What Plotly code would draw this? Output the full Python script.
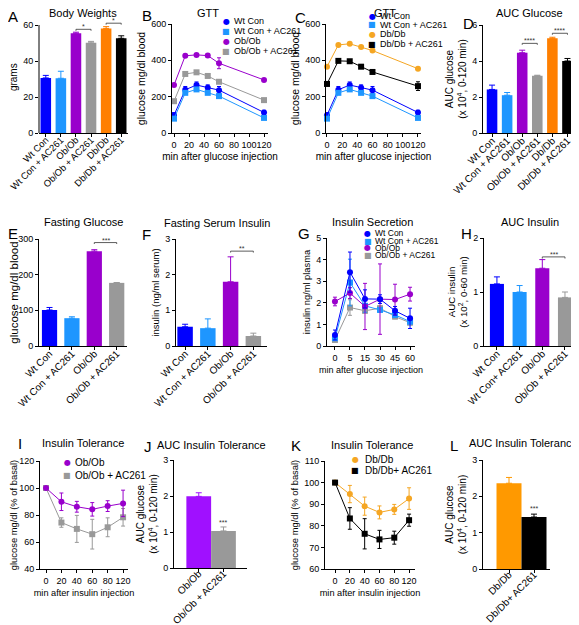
import plotly.graph_objects as go

# page offset (browser body margin) compensation
OFF = 8
PAGE_W, PAGE_H = 579, 625
W, H = PAGE_W - OFF, PAGE_H - OFF
FONT = "Liberation Sans, Arial, Helvetica, sans-serif"

# ---------------- colours ----------------
C_WT = "#0000FF"
C_WTAC = "#1E96FF"
C_OB = "#9900CC"
C_OBAC = "#999999"
C_DB = "#FF7F00"
C_DBAC = "#000000"
C_DB_LINE = "#F5A623"
C_OB_J = "#A010FF"
C_DB_L = "#FF9900"

# ---------------- data ----------------
bw_groups = ["Wt Con", "Wt Con + AC261", "Ob/Ob", "Ob/Ob + AC261", "Db/Db", "Db/Db + AC261"]
bw_mean = [30.6, 30.4, 55.4, 50.1, 58.1, 52.6]
bw_sem = [1.4, 3.9, 0.6, 0.8, 1.0, 1.4]

gtt_time = [0, 15, 30, 45, 60, 120]
gtt_wt = [98, 238, 264, 249, 236, 113]
gtt_wt_err = [14, 18, 17, 16, 20, 12]
gtt_wtac = [79, 221, 240, 221, 203, 83]
gtt_wtac_err = [8, 8, 10, 8, 8, 6]
gtt_ob = [264, 425, 430, 426, 384, 292]
gtt_ob_err = [6, 8, 6, 8, 30, 6]
gtt_obac = [175, 325, 334, 314, 282, 181]
gtt_obac_err = [5, 6, 6, 5, 6, 5]
gtt_db = [365, 485, 491, 474, 454, 354]
gtt_db_err = [6, 6, 6, 6, 6, 6]
gtt_dbac = [270, 397, 395, 365, 336, 258]
gtt_dbac_err = [8, 6, 6, 8, 6, 24]

auc_glu_groups = ["Wt Con", "Wt Con + AC261", "Ob/Ob", "Ob/Ob + AC261", "Db/Db", "Db/Db + AC261"]
auc_glu = [2.42, 2.10, 4.46, 3.18, 5.26, 4.00]
auc_glu_err = [0.24, 0.15, 0.14, 0.03, 0.06, 0.14]

fg_groups = ["Wt Con", "Wt Con + AC261", "Ob/Ob", "Ob/Ob + AC261"]
fg_mean = [101, 78, 266, 177]
fg_err = [7, 4, 4, 1]

fi_groups = ["Wt Con", "Wt Con + AC261", "Ob/Ob", "Ob/Ob + AC261"]
fi_mean = [0.54, 0.50, 1.80, 0.28]
fi_err = [0.07, 0.26, 0.70, 0.08]

ins_time = ["0", "5", "15", "30", "45", "60"]
ins_wt = [0.51, 3.42, 2.18, 2.17, 1.63, 1.28]
ins_wt_err = [0.23, 0.93, 0.42, 0.20, 0.20, 0.47]
ins_wtac = [0.36, 2.94, 1.86, 1.67, 1.44, 1.13]
ins_wtac_err = [0.10, 1.08, 0.30, 0.10, 0.10, 0.10]
ins_ob = [2.06, 2.45, 1.83, 2.17, 2.15, 2.40]
ins_ob_err = [0.20, 0.25, 1.07, 1.63, 0.71, 0.32]
ins_obac = [0.28, 1.78, 1.63, 1.75, 1.36, 1.08]
ins_obac_err = [0.05, 0.36, 0.10, 0.10, 0.10, 0.10]

auc_ins_groups = ["Wt Con", "Wt Con+ AC261", "Ob/Ob", "Ob/Ob + AC261"]
auc_ins = [1.15, 1.00, 1.44, 0.90]
auc_ins_err = [0.13, 0.12, 0.16, 0.10]

itt_time = ["0", "20", "40", "60", "80", "120"]
itt_ob = [100, 89.8, 86.1, 84.2, 86.6, 88.6]
itt_ob_err = [0.5, 6.5, 4.0, 5.0, 4.0, 9.8]
itt_obac = [100, 74.4, 69.7, 65.8, 70.9, 78.3]
itt_obac_err = [0.5, 3.5, 10.0, 11.0, 7.0, 6.5]
itt_ob_stars = ["", "*", "*", "**", "*", ""]
itt_ob_star_y = [None, 98.4, 91.0, 91.8, 93.6, None]

aucitt_ob_groups = ["Ob/Ob", "Ob/Ob + AC261"]
aucitt_ob = [1.99, 1.03]
aucitt_ob_err = [0.10, 0.11]

itt_db = [100, 94.7, 89.1, 86.2, 87.6, 92.6]
itt_db_err = [0.5, 4.0, 4.2, 3.0, 2.3, 5.0]
itt_dbac = [100, 83.4, 76.3, 73.7, 74.5, 82.6]
itt_dbac_err = [0.5, 5.0, 7.0, 4.2, 3.0, 2.8]
itt_db_stars = ["", "*", "**", "**", "**", "*"]
itt_db_star_y = [None, 101.0, 95.7, 90.6, 92.0, 99.0]

aucitt_db_groups = ["Db/Db", "Db/Db+ AC261"]
aucitt_db = [2.36, 1.43]
aucitt_db_err = [0.16, 0.08]

# ---------------- helpers ----------------
fig = go.Figure()
layout = dict(
    width=W, height=H, margin=dict(l=0, r=0, t=0, b=0, pad=0),
    paper_bgcolor="white", plot_bgcolor="white", showlegend=False,
    font=dict(family=FONT, size=9, color="black"),
    template="none",
)
annotations = []
shapes = []


def pxx(x):
    return (x - OFF) / W


def pxy(y):
    return 1 - (y - OFF) / H


def ref(n, a):
    return a if n == 1 else f"{a}{n}"


def add_axes(n, xpx, ypx, xrange, yrange, yticks, xtickvals=None, xticktext=None,
             xtitle=None, ytitle=None, xcat=False, tickangle=0, yline=True,
             xtsize=9, ytsize=10, xfont=9, standoff=-6):
    xa = dict(domain=[pxx(xpx[0]), pxx(xpx[1])], range=xrange, anchor=ref(n, "y"),
              showline=True, linecolor="black", linewidth=1, ticks="outside", ticklen=3,
              tickwidth=1, tickcolor="black", showgrid=False, zeroline=False,
              tickfont=dict(size=xfont, family=FONT), tickangle=tickangle, automargin=False,
              fixedrange=True, type="category" if xcat else "linear",
              ticklabeloverflow="allow")
    if tickangle:
        xa["ticklabelstandoff"] = standoff
    if xtickvals is not None:
        xa["tickmode"] = "array"
        xa["tickvals"] = xtickvals
        xa["ticktext"] = xticktext
    if xtitle:
        xa["title"] = dict(text=xtitle, font=dict(size=xtsize, family=FONT), standoff=4)
    ya = dict(domain=[pxy(ypx[1]), pxy(ypx[0])], range=yrange, anchor=ref(n, "x"),
              showline=yline, linecolor="black", linewidth=1, ticks="outside", ticklen=3,
              tickwidth=1, tickcolor="black", showgrid=False, zeroline=False,
              tickmode="array", tickvals=yticks, ticktext=[str(t) for t in yticks],
              tickfont=dict(size=9, family=FONT), automargin=False, fixedrange=True,
              ticklabeloverflow="allow")
    if ytitle:
        ya["title"] = dict(text=ytitle, font=dict(size=ytsize, family=FONT), standoff=3)
    layout["xaxis" if n == 1 else f"xaxis{n}"] = xa
    layout["yaxis" if n == 1 else f"yaxis{n}"] = ya


def add_bars(n, means, errs, colors, width):
    for i, (m, e, c) in enumerate(zip(means, errs, colors)):
        fig.add_trace(go.Bar(
            x=[i], y=[m], width=width, marker=dict(color=c, line=dict(width=0)),
            error_y=dict(type="data", array=[e], arrayminus=[0], symmetric=False,
                         color=c, thickness=1, width=3),
            xaxis=ref(n, "x"), yaxis=ref(n, "y"), hoverinfo="skip"))


def add_line(n, x, y, err, color, symbol, lcolor=None):
    fig.add_trace(go.Scatter(
        x=x, y=y, mode="lines+markers",
        line=dict(color=lcolor or color, width=1),
        marker=dict(color=color, symbol=symbol, size=6, line=dict(width=0)),
        error_y=dict(type="data", array=err, color=color, thickness=1, width=2),
        xaxis=ref(n, "x"), yaxis=ref(n, "y"), cliponaxis=False, hoverinfo="skip"))


def bracket(n, i0, i1, y, drop, stars, size=7):
    shapes.append(dict(type="path", xref=ref(n, "x"), yref=ref(n, "y"),
                       path=f"M {i0},{y - drop} L {i0},{y} L {i1},{y} L {i1},{y - drop}",
                       line=dict(color="#333333", width=0.8)))
    annotations.append(dict(x=(i0 + i1) / 2, y=y, xref=ref(n, "x"), yref=ref(n, "y"),
                            text=stars, showarrow=False, yanchor="bottom", yshift=-3,
                            font=dict(size=size, family=FONT, color="#333333")))


def star(n, x, y, text, size=7):
    annotations.append(dict(x=x, y=y, xref=ref(n, "x"), yref=ref(n, "y"), text=text,
                            showarrow=False, yanchor="bottom", yshift=-3,
                            font=dict(size=size, family=FONT, color="#333333")))


def label(x, y, text, size, anchor="center"):
    annotations.append(dict(x=pxx(x), y=pxy(y), xref="paper", yref="paper", text=text,
                            showarrow=False, xanchor=anchor, yanchor="middle",
                            font=dict(size=size, family=FONT, color="black")))


def legend(xsym, xtext, ys, names, colors, symbols, size=9):
    for yy, nm, c, s in zip(ys, names, colors, symbols):
        annotations.append(dict(x=pxx(xsym), y=pxy(yy), xref="paper", yref="paper",
                                text=s, showarrow=False, xanchor="center", yanchor="middle",
                                font=dict(size=8, color=c, family="DejaVu Sans")))
        annotations.append(dict(x=pxx(xtext), y=pxy(yy), xref="paper", yref="paper",
                                text=nm, showarrow=False, xanchor="left", yanchor="middle",
                                font=dict(size=size, color="black", family=FONT)))


six_colors = [C_WT, C_WTAC, C_OB, C_OBAC, C_DB, C_DBAC]
four_colors = [C_WT, C_WTAC, C_OB, C_OBAC]
CIRC, SQ = "\u25CF", "\u25A0"
BARF = 10  # bar-category tick label size

# ---- A: body weights ----
add_axes(1, (39, 128), (21.4, 133), [-0.45, 5.45], [0, 62], [0, 20, 40, 60],
         list(range(6)), bw_groups, ytitle="grams", tickangle=-45, yline=False,
         ytsize=10, xfont=9.4)
shapes.append(dict(type="line", xref="paper", yref="paper", x0=pxx(39), x1=pxx(39),
                   y0=pxy(133), y1=pxy(25), line=dict(color="black", width=1)))
add_bars(1, bw_mean, bw_sem, six_colors, 0.7)
bracket(1, 2, 3, 57.6, 0.8, "*")
bracket(1, 4, 5, 61.0, 0.8, "*")

# ---- B: GTT ob ----
add_axes(2, (172, 268), (24, 133), [-2.67, 125.3], [0, 600], [0, 200, 400, 600],
         [0, 20, 40, 60, 80, 100, 120], ["0", "20", "40", "60", "80", "100", "120"],
         xtitle="min after glucose injection", ytitle="glucose mg/dl blood",
         xtsize=10, ytsize=10.5)
add_line(2, gtt_time, gtt_ob, gtt_ob_err, C_OB, "circle")
add_line(2, gtt_time, gtt_obac, gtt_obac_err, C_OBAC, "square")
add_line(2, gtt_time, gtt_wt, gtt_wt_err, C_WT, "circle")
add_line(2, gtt_time, gtt_wtac, gtt_wtac_err, C_WTAC, "square")
legend(226, 232, [21, 31.5, 41, 51], ["Wt Con", "Wt Con + AC261", "Ob/Ob", "Ob/Ob + AC261"],
       four_colors, [CIRC, SQ, CIRC, SQ])

# ---- C: GTT db ----
add_axes(3, (326, 421), (24, 133), [-1.3, 124], [0, 600], [0, 200, 400, 600],
         [0, 20, 40, 60, 80, 100, 120], ["0", "20", "40", "60", "80", "100", "120"],
         xtitle="min after glucose injection", ytitle="glucose mg/dl blood",
         xtsize=10, ytsize=10.5)
add_line(3, gtt_time, gtt_db, gtt_db_err, C_DB_LINE, "circle")
add_line(3, gtt_time, gtt_dbac, gtt_dbac_err, C_DBAC, "square")
add_line(3, gtt_time, gtt_wt, gtt_wt_err, C_WT, "circle")
add_line(3, gtt_time, gtt_wtac, gtt_wtac_err, C_WTAC, "square")
legend(372, 378, [16, 25, 34.3, 44.3], ["Wt Con", "Wt Con + AC261", "Db/Db", "Db/Db + AC261"],
       [C_WT, C_WTAC, C_DB_LINE, C_DBAC], [CIRC, SQ, CIRC, SQ])

# ---- D: AUC glucose ----
add_axes(4, (483, 575), (25, 133), [-0.6, 5.5], [0, 6], [0, 2, 4, 6],
         list(range(6)), auc_glu_groups,
         ytitle="AUC glucose<br>(x 10<sup>4</sup>, 0-120 min)", tickangle=-45,
         ytsize=10, xfont=BARF)
add_bars(4, auc_glu, auc_glu_err, six_colors, 0.7)
bracket(4, 2, 3, 4.98, 0.08, "****")
bracket(4, 4, 5, 5.54, 0.08, "****")

# ---- E: fasting glucose ----
add_axes(5, (39, 127), (239, 346), [-0.47, 3.46], [0, 300], [0, 100, 200, 300],
         list(range(4)), fg_groups, ytitle="glucose mg/dl blood", tickangle=-45,
         ytsize=11.5, xfont=BARF)
add_bars(5, fg_mean, fg_err, four_colors, 0.68)
bracket(5, 2, 3, 290, 4, "***")

# ---- F: fasting insulin ----
add_axes(6, (176, 267), (239, 346), [-0.4, 3.6], [0, 3], [0, 1, 2, 3],
         list(range(4)), fi_groups, ytitle="insulin (ng/ml serum)", tickangle=-45,
         ytsize=9.5, xfont=BARF)
add_bars(6, fi_mean, fi_err, four_colors, 0.68)
bracket(6, 2, 3, 2.66, 0.04, "**")

# ---- G: insulin secretion ----
add_axes(7, (327, 415), (238, 346), [-0.53, 5.33], [0, 5], [0, 1, 2, 3, 4, 5],
         xtitle="min after glucose injection", ytitle="insulin ng/ml plasma", xcat=True,
         xtsize=9, ytsize=9.3)
add_line(7, ins_time, ins_obac, ins_obac_err, C_OBAC, "square")
add_line(7, ins_time, ins_wtac, ins_wtac_err, C_WTAC, "square")
add_line(7, ins_time, ins_ob, ins_ob_err, C_OB, "circle")
add_line(7, ins_time, ins_wt, ins_wt_err, C_WT, "circle")
legend(368, 373, [233.3, 241, 248, 255.3], ["Wt Con", "Wt Con + AC261", "Ob/Ob", "Ob/Ob + AC261"],
       four_colors, [CIRC, SQ, CIRC, SQ], size=8.5)

# ---- H: AUC insulin ----
add_axes(8, (484, 577), (238, 346), [-0.57, 3.53], [0, 2], [0, 1, 2],
         list(range(4)), auc_ins_groups,
         ytitle="AUC insulin<br>(x 10<sup>2</sup>, 0-60 min)", tickangle=-45,
         ytsize=9.7, xfont=BARF)
add_bars(8, auc_ins, auc_ins_err, four_colors, 0.62)
bracket(8, 2, 3, 1.65, 0.03, "***")

# ---- I: ITT ob ----
add_axes(9, (40, 128), (461, 569), [-0.39, 5.32], [40, 120], [40, 60, 80, 100, 120],
         xtitle="min after insulin injection", ytitle="glucose mg/dl (% of basal)", xcat=True,
         xtsize=9.2, ytsize=9.4)
add_line(9, itt_time, itt_obac, itt_obac_err, C_OBAC, "square")
add_line(9, itt_time, itt_ob, itt_ob_err, C_OB, "circle")
for t, s, yy in zip(itt_time, itt_ob_stars, itt_ob_star_y):
    if s:
        star(9, t, yy, s)
legend(67, 73, [462.7, 475], ["Ob/Ob", "Ob/Ob + AC261"], [C_OB, C_OBAC], [CIRC, SQ], size=10)

# ---- J: AUC ITT ob ----
add_axes(10, (174, 247), (460, 568), [-1.0, 1.95], [0, 3], [0, 1, 2, 3],
         [0, 1], aucitt_ob_groups,
         ytitle="AUC glucose<br>(x 10<sup>4</sup>, 0-120 min)", tickangle=-45,
         ytsize=10, xfont=BARF, standoff=-8)
add_bars(10, aucitt_ob, aucitt_ob_err, [C_OB_J, C_OBAC], 1.0)
star(10, 1, 1.2, "***")

# ---- K: ITT db ----
add_axes(11, (325, 415), (461, 569), [-0.68, 5.4], [60, 110], [60, 70, 80, 90, 100, 110],
         xtitle="min after insulin injection", ytitle="glucose mg/dl (% of basal)", xcat=True,
         xtsize=9.2, ytsize=9.4)
add_line(11, itt_time, itt_db, itt_db_err, C_DB_LINE, "circle")
add_line(11, itt_time, itt_dbac, itt_dbac_err, C_DBAC, "square")
for t, s, yy in zip(itt_time, itt_db_stars, itt_db_star_y):
    if s:
        star(11, t, yy, s)
legend(355, 363, [459.3, 471], ["Db/Db", "Db/Db+ AC261"], [C_DB_LINE, C_DBAC], [CIRC, SQ], size=10)

# ---- L: AUC ITT db ----
add_axes(12, (483, 550), (460, 569), [-1.04, 1.64], [0, 3], [0, 1, 2, 3],
         [0, 1], aucitt_db_groups,
         ytitle="AUC glucose<br>(x 10<sup>4</sup>, 0-120 min)", tickangle=-45,
         ytsize=10, xfont=BARF, standoff=-8)
add_bars(12, aucitt_db, aucitt_db_err, [C_DB_L, C_DBAC], 1.0)
star(12, 1, 1.6, "***")

# ---------------- titles & panel letters ----------------
titles = [(82.5, 7.5, "Body Weights"), (208, 12, "GTT"), (385, 10, "GTT"),
          (529, 10, "AUC Glucose"), (83, 222, "Fasting Glucose"),
          (217, 223, "Fasting Serum Insulin"), (372, 222, "Insulin Secretion"),
          (530, 222, "AUC Insulin"), (83, 443, "Insulin Tolerance"),
          (211, 445, "AUC Insulin Tolerance"), (372, 445, "Insulin Tolerance"),
          (523, 443, "AUC Insulin Tolerance")]
for x, y, t in titles:
    label(x, max(y, OFF + 5), t, 11)

letters = [(8, 16.5, "A"), (147, 15, "B"), (300, 17, "C"), (468, 23, "D"),
           (8, 233.5, "E"), (146.5, 234.5, "F"), (303.5, 233, "G"), (466, 233, "H"),
           (20, 443, "I"), (148, 446, "J"), (296, 445, "K"), (454, 445, "L")]
for x, y, t in letters:
    label(max(x, OFF + 5), y, t, 15)

layout["annotations"] = annotations
layout["shapes"] = shapes
fig.update_layout(**layout)
fig.write_html("out.html")
